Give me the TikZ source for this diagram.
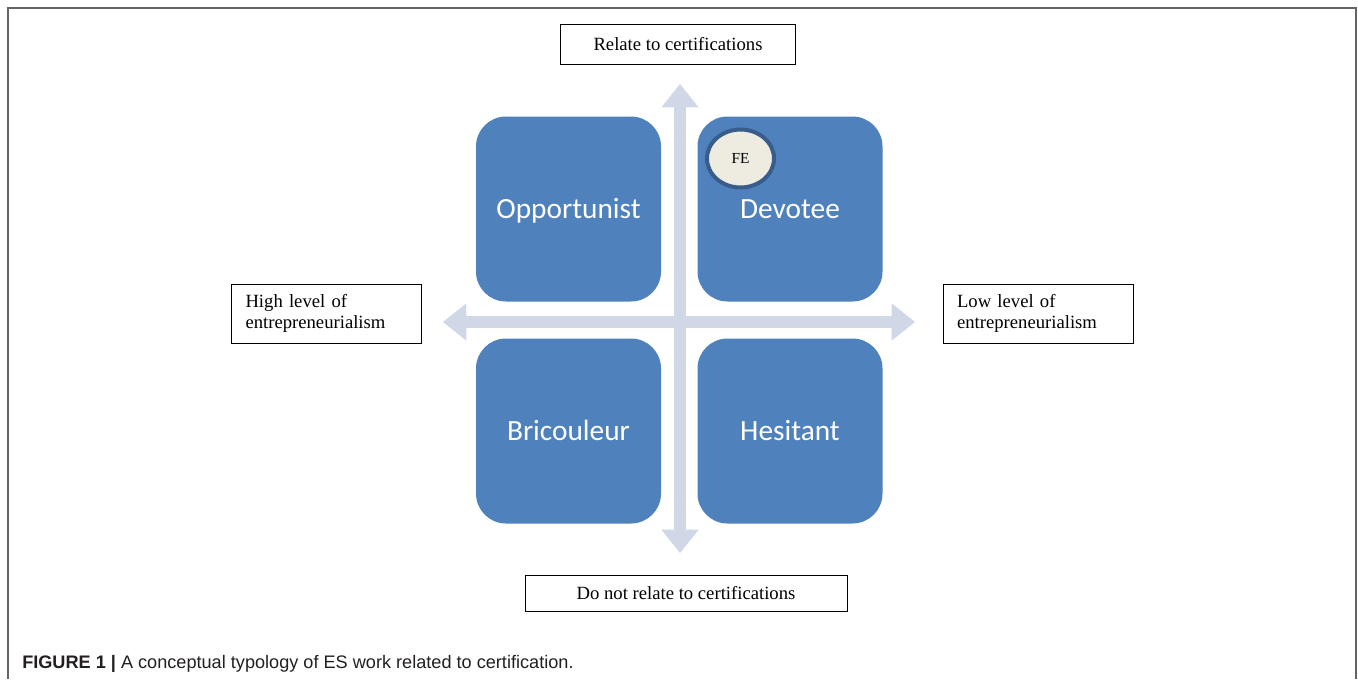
\documentclass[tikz,border=0pt]{standalone}
\usepackage{fontspec}
\setmainfont{Liberation Serif}
\newfontfamily\quadfont{Carlito}
\newfontfamily\capfont{Liberation Sans}
\usetikzlibrary{arrows.meta,shapes.geometric}

\definecolor{quadblue}{RGB}{79,129,189}
\definecolor{axisblue}{RGB}{208,216,232}
\definecolor{feback}{RGB}{238,236,225}
\definecolor{feline}{RGB}{56,93,138}
\definecolor{framegray}{RGB}{100,100,100}
\definecolor{captext}{RGB}{35,31,32}

\begin{document}
\begin{tikzpicture}[x=0.75pt,y=-0.75pt,
    quad/.style={fill=quadblue,rounded corners=22.5pt,minimum width=138.75pt,
      minimum height=138.75pt,inner sep=0pt,text=white,text height=18pt,
      text depth=4.5pt,font=\quadfont\fontsize{22}{26}\selectfont},
    labelbox/.style={draw,line width=0.75pt,inner sep=0pt,
      font=\fontsize{14}{16}\selectfont},
    sidebox/.style={labelbox,minimum width=142.5pt,minimum height=44.25pt,
      text width=121.5pt,align=left},
    axis/.style={axisblue,line width=8.5pt,
      {Triangle[width=28pt,length=17.5pt,line width=0pt]}-{Triangle[width=28pt,length=17.5pt,line width=0pt]}}]
  \useasboundingbox (0,0) rectangle (1358,679);
  % frame of the figure
  \draw[framegray,line width=1.3pt] (8,679) -- (8,8) -- (1356,8) -- (1356,679);

  % the two axes
  \coordinate (north) at (680,84);
  \coordinate (south) at (680,553);
  \coordinate (west) at (443,322);
  \coordinate (east) at (915,322);
  \draw[axis] (north) -- (south);
  \draw[axis] (west) -- (east);

  % four quadrants
  \node[quad] (opp) at (568.5,209) {Opportunist};
  \node[quad] (dev) at (790,209) {Devotee};
  \node[quad] (bri) at (568.5,431) {Bricouleur};
  \node[quad] (hes) at (790,431) {Hesitant};
  \node[ellipse,draw=feline,line width=3pt,fill=feback,minimum width=50.25pt,
    minimum height=43.5pt,font=\fontsize{11.5}{13}\selectfont] (fe) at (740.5,158.5) {FE};

  % axis labels
  \node[labelbox,minimum width=176.25pt,minimum height=30pt] (cert) at (678,44) {Relate to certifications};
  \node[labelbox,minimum width=241.5pt,minimum height=27pt] (nocert) at (686,593) {Do not relate to certifications};
  \node[sidebox] (high) at (326.5,313.5) {High level of\\entrepreneurialism};
  \node[sidebox] (low) at (1038,313.5) {Low level of\\entrepreneurialism};

  \node[anchor=base west,inner sep=0pt,text=captext,
    font=\capfont\fontsize{13.6}{16}\selectfont] (caption) at (22,668)
    {\textbf{FIGURE 1 |} A conceptual typology of ES work related to certification.};
\end{tikzpicture}
\end{document}
